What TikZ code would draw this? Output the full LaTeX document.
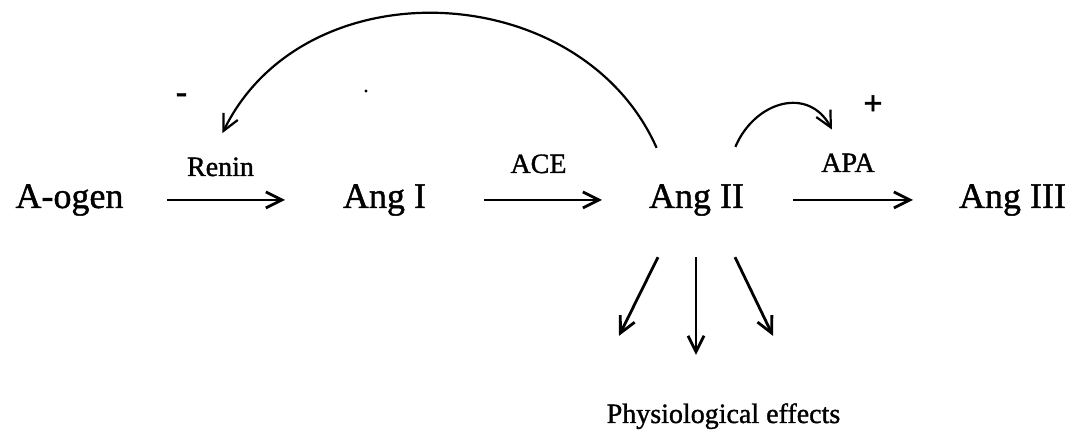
\documentclass[tikz,border=0pt]{standalone}
\usepackage{fontspec}
\setmainfont{Liberation Serif}[FakeBold=1.2]
\usetikzlibrary{arrows.meta}

\begin{document}
\begin{tikzpicture}[
        x=0.5pt, y=-0.5pt,
    every node/.style={inner sep=0pt, anchor=base},
    sub/.style={font=\fontsize{18}{20}\selectfont},
    enz/.style={font=\fontsize{14}{16}\selectfont},
    sign/.style={font=\bfseries\fontsize{17}{19}\selectfont, anchor=center},
    speck/.style={circle, fill, minimum size=1.6pt, anchor=center},
    rxn/.style={line width=1.4pt, -{Straight Barb[length=8pt,width=8pt]}},
    fb/.style={line width=1.1pt, -{Straight Barb[length=8pt,width=8pt]}}
]
\useasboundingbox (0,0) rectangle (1078,437);

    \node[sub] (aogen) at (69.5,208) {A-ogen};
    \node[sub] (angI) at (384.5,208) {Ang I};
    \node[sub] (angII) at (696.5,208) {Ang II};
    \node[sub] (angIII) at (1012.5,208) {Ang III};
    \node[enz] (renin) at (220.5,176) {Renin};
    \node[enz] (ace) at (538.5,173) {ACE};
    \node[enz] (apa) at (848,172) {APA};
    \node[enz] (physio) at (723.5,423) {Physiological effects};
    \node[sign] (neg) at (181.5,98) {-};
    \node[sign] (pos) at (873,105) {+};
    \node[speck] (spot) at (366,91) {};

    \draw [rxn] ([shift={(48.75pt,4pt)}]aogen.base)
        -- ([shift={(-49.75pt,4pt)}]angI.base);
    \draw [rxn] ([shift={(49.75pt,4pt)}]angI.base)
        -- ([shift={(-47.25pt,4pt)}]angII.base);
    \draw [rxn] ([shift={(48.25pt,4pt)}]angII.base)
        -- ([shift={(-49.75pt,4pt)}]angIII.base);

    \draw [fb] ([shift={(4pt,18pt)}]angII.north west)
        to [out=114,in=64,looseness=1.1] ([shift={(1pt,12pt)}]renin.north);
    \draw [fb] ([shift={(-4.5pt,18.5pt)}]angII.north east)
        to [out=67,in=118,looseness=1.3] ([shift={(-8pt,11.75pt)}]apa.north);

    \draw [rxn] ([shift={(-19.25pt,-20.5pt)}]angII.south)
        -- ([shift={(-52.25pt,33.5pt)}]physio.north);
    \draw [rxn] ([shift={(-0.25pt,-20.5pt)}]angII.south)
        -- ([shift={(-13.75pt,24pt)}]physio.north);
    \draw [rxn] ([shift={(19.25pt,-20.5pt)}]angII.south)
        -- ([shift={(24.75pt,33.5pt)}]physio.north);
  \end{tikzpicture}
\end{document}
